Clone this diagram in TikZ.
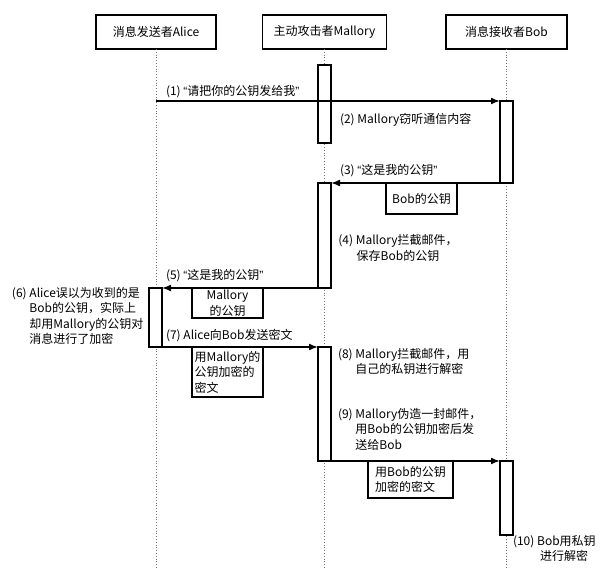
\documentclass[tikz,border=0pt]{standalone}
\usepackage{fontspec}
\setmainfont{Noto Sans CJK SC}
\newfontfamily\latf{Liberation Sans}
\newcommand{\myLQ}{{\latf “}}
\newcommand{\myRQ}{{\latf ”}}
\usetikzlibrary{arrows.meta}
\begin{document}
\begin{tikzpicture}[x=1pt,y=-1pt,
  every node/.style={font=\fontsize{12}{15.5}\selectfont, inner sep=0pt, outer sep=0pt},
  header/.style={draw, line width=1.6pt, minimum height=34pt},
  life/.style={draw=black!55, dotted, line width=0.8pt},
  act/.style={draw, fill=white, line width=1.4pt, minimum width=13pt},
  msg/.style={line width=1.6pt, -{Latex[length=9pt,width=7pt]}},
  lbl/.style={anchor=west},
  mbox/.style={draw, fill=white, line width=1.4pt},
]
\useasboundingbox (0,0) rectangle (612,569);
\fill[white] (0,0) rectangle (612,569);

% headers
\node[header, minimum width=120pt] (ha) at (156,32) {消息发送者Alice};
\node[header, minimum width=124pt] (hm) at (324.5,32) {主动攻击者Mallory};
\node[header, minimum width=121pt] (hb) at (506.5,32) {消息接收者Bob};

% lifeline ends
\coordinate (ea) at (156,569);
\coordinate (em) at (324.5,569);
\coordinate (eb) at (506.5,569);
\draw[life] (ha.south) -- (ea);
\draw[life] (hm.south) -- (em);
\draw[life] (hb.south) -- (eb);

% activations
\node[act, minimum height=78pt]  (m1) at (324.5,104) {};
\node[act, minimum height=82pt]  (b1) at (506.5,142) {};
\node[act, minimum height=105pt] (m2) at (324.5,235.5) {};
\node[act, minimum height=59pt]  (a1) at (155.5,317.5) {};
\node[act, minimum height=114pt] (m3) at (324.5,404) {};
\node[act, minimum height=74pt]  (b2) at (506.5,498) {};

% message boxes
\node[mbox, minimum width=71pt, minimum height=31pt] (k3) at (421.5,198.5) {Bob的公钥};
\node[mbox, minimum width=71pt, minimum height=30pt, align=center] (k5) at (227.5,303) {Mallory\\的公钥};
\node[mbox, minimum width=71pt, minimum height=50pt, align=left] (k7) at (227.5,372) {用Mallory的\\公钥加密的\\密文};
\node[mbox, minimum width=85pt, minimum height=37pt, align=left] (k9) at (410.5,479.5) {用Bob的公钥\\加密的密文};

% arrows
\coordinate (s1) at (156,101);
\draw[msg] (s1) -- (b1.north west);
\draw[msg] (b1.south west) -- (m2.north east);
\draw[msg] (m2.south west) -- (a1.north east);
\draw[msg] (a1.south east) -- (m3.north west);
\draw[msg] (m3.south east) -- (b2.north west);

% labels
\node[lbl] (l1) at (166,92) {(1) \myLQ 请把你的公钥发给我\myRQ};
\node[lbl] (l2) at (340,120) {(2) Mallory窃听通信内容};
\node[lbl] (l3) at (340,171) {(3) \myLQ 这是我的公钥\myRQ};
\node[align=center] (l4) at (398,248) {(4) Mallory拦截邮件，\\保存Bob的公钥};
\node[lbl] (l5) at (166,276) {(5) \myLQ 这是我的公钥\myRQ};
\node[anchor=north west, align=left] (l6) at (12,287) {(6) Alice误以为收到的是\\\hphantom{(6)~}Bob的公钥，实际上\\\hphantom{(6)~}却用Mallory的公钥对\\\hphantom{(6)~}消息进行了加密};
\node[lbl] (l7) at (166,336) {(7) Alice向Bob发送密文};
\node[anchor=north west, align=left] (l8) at (338,348) {(8) Mallory拦截邮件，用\\\hphantom{(8)~}自己的私钥进行解密};
\node[anchor=north west, align=left] (l9) at (338,408) {(9) Mallory伪造一封邮件，\\\hphantom{(9)~}用Bob的公钥加密后发\\\hphantom{(9)~}送给Bob};
\node[anchor=north west, align=left] (l10) at (513,535) {(10) Bob用私钥\\\hspace*{27pt}进行解密};
\end{tikzpicture}
\end{document}
